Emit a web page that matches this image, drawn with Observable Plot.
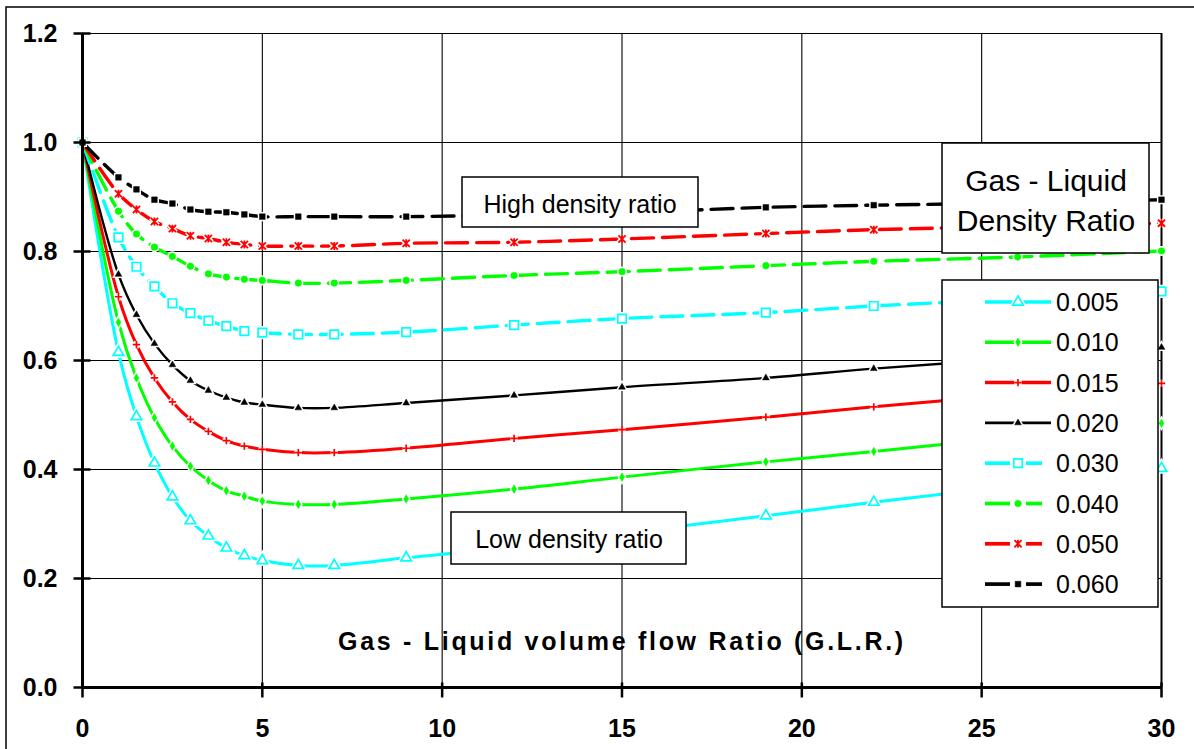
<!DOCTYPE html>
<html>
<head>
<meta charset="utf-8">
<script src="https://cdn.jsdelivr.net/npm/d3@7"></script>
<script src="https://cdn.jsdelivr.net/npm/@observablehq/plot@0.6"></script>
<style>
  html, body { margin: 0; padding: 0; background: #fff; overflow: hidden; }
  #chart svg { display: block; }
</style>
</head>
<body>
<div id="chart"></div>
<script>
// ---------------- data ----------------
const glr = [0, 1, 1.5, 2, 2.5, 3, 3.5, 4, 4.5, 5, 6, 7, 9, 12, 15, 19, 22, 26, 30];
const ratioLabels = ["0.005", "0.010", "0.015", "0.020", "0.030", "0.040", "0.050", "0.060"];
const r005 = [1.0, 0.615, 0.497, 0.412, 0.350, 0.306, 0.278, 0.256, 0.242, 0.233, 0.224, 0.224, 0.238, 0.258, 0.283, 0.315, 0.340, 0.371, 0.402];
const r010 = [1.0, 0.670, 0.568, 0.495, 0.443, 0.406, 0.380, 0.361, 0.351, 0.342, 0.336, 0.336, 0.346, 0.364, 0.386, 0.414, 0.433, 0.460, 0.485];
const r015 = [1.0, 0.717, 0.629, 0.568, 0.524, 0.492, 0.470, 0.453, 0.443, 0.437, 0.431, 0.431, 0.439, 0.457, 0.473, 0.496, 0.515, 0.538, 0.558];
const r020 = [1.0, 0.758, 0.684, 0.631, 0.592, 0.563, 0.545, 0.532, 0.523, 0.519, 0.513, 0.513, 0.522, 0.536, 0.551, 0.568, 0.585, 0.604, 0.624];
const r030 = [1.0, 0.826, 0.772, 0.736, 0.705, 0.687, 0.673, 0.663, 0.654, 0.651, 0.648, 0.648, 0.652, 0.665, 0.677, 0.688, 0.700, 0.713, 0.727];
const r040 = [1.0, 0.874, 0.832, 0.808, 0.791, 0.773, 0.759, 0.753, 0.749, 0.747, 0.742, 0.742, 0.747, 0.756, 0.763, 0.774, 0.782, 0.790, 0.801];
const r050 = [1.0, 0.906, 0.877, 0.855, 0.842, 0.829, 0.824, 0.817, 0.813, 0.810, 0.810, 0.810, 0.815, 0.817, 0.823, 0.833, 0.840, 0.846, 0.852];
const r060 = [1.0, 0.936, 0.914, 0.895, 0.888, 0.877, 0.873, 0.872, 0.868, 0.864, 0.864, 0.864, 0.864, 0.867, 0.871, 0.881, 0.885, 0.889, 0.895];
const seriesValues = [r005, r010, r015, r020, r030, r040, r050, r060];
const xTicks = [0, 5, 10, 15, 20, 25, 30];
const yTicks = [0, 0.2, 0.4, 0.6, 0.8, 1.0, 1.2];
const xLabel = "Gas - Liquid volume flow Ratio (G.L.R.)";
const legendTitle = ["Gas - Liquid", "Density Ratio"];
const noteHigh = "High density ratio";
const noteLow = "Low density ratio";

// ---------------- styles ----------------
const FONT = "'Liberation Sans', Arial, Helvetica, sans-serif";
const CYAN = "#00ffff", GREEN = "#00ff00", RED = "#ff0000", BLACK = "#000000";
const starSymbol = {
  draw(ctx, size) {
    const r = Math.sqrt(size / Math.PI);
    ctx.moveTo(-r, -r); ctx.lineTo(r, r);
    ctx.moveTo(-r, r); ctx.lineTo(r, -r);
    ctx.moveTo(0, -r * 1.1); ctx.lineTo(0, r * 1.1);
  }
};
const styles = [
  {color: CYAN,  width: 3,   dash: null,    symbol: "triangle", r: 3.9, fill: "#ffffff", stroke: CYAN,  sw: 1.7},
  {color: GREEN, width: 3,   dash: null,    symbol: "diamond",  r: 2.6, fill: GREEN,     stroke: GREEN, sw: 0.5},
  {color: RED,   width: 3,   dash: null,    symbol: "plus",     r: 2.5, fill: "none",    stroke: RED,   sw: 1.7},
  {color: BLACK, width: 2.4, dash: null,    symbol: "triangle", r: 2.5, fill: BLACK,     stroke: BLACK, sw: 0.5},
  {color: CYAN,  width: 3.4, dash: "22,9",  symbol: "square",   r: 4.8, fill: "#ffffff", stroke: CYAN,  sw: 1.7},
  {color: GREEN, width: 3.4, dash: "22,9",  symbol: "circle",   r: 3.3, fill: GREEN,     stroke: GREEN, sw: 0.5},
  {color: RED,   width: 3.4, dash: "22,9",  symbol: starSymbol, r: 3.6, fill: "none",    stroke: RED,   sw: 1.8},
  {color: BLACK, width: 3.4, dash: "22,9",  symbol: "square",   r: 3.2, fill: BLACK,     stroke: BLACK, sw: 0.5}
];

// table built from the arrays
const rows = [];
ratioLabels.forEach((ratio, i) => {
  glr.forEach((g, j) => rows.push({glr: g, value: seriesValues[i][j], ratio}));
});

const hTick = {draw(ctx) { ctx.moveTo(-9, 0); ctx.lineTo(8, 0); }};
const vTick = {draw(ctx) { ctx.moveTo(0, -5); ctx.lineTo(0, 10); }};

const seriesMarks = [];
ratioLabels.forEach((ratio, i) => {
  const s = styles[i];
  const data = rows.filter(d => d.ratio === ratio);
  seriesMarks.push(Plot.line(data, {
    x: "glr", y: "value", stroke: s.color, strokeWidth: s.width,
    strokeDasharray: s.dash, curve: "catmull-rom"
  }));
  // white halo
  seriesMarks.push(Plot.dot(data, {
    x: "glr", y: "value", symbol: s.symbol, r: s.r,
    fill: s.fill === "none" ? "none" : "#ffffff", stroke: "#ffffff", strokeWidth: s.sw + 3
  }));
  seriesMarks.push(Plot.dot(data, {
    x: "glr", y: "value", symbol: s.symbol, r: s.r,
    fill: s.fill, stroke: s.stroke, strokeWidth: s.sw
  }));
});

const chart = Plot.plot({
  width: 1194,
  height: 749,
  marginLeft: 82,
  marginRight: 33,
  marginTop: 33,
  marginBottom: 62,
  style: {fontFamily: FONT, background: "#ffffff", color: "#000", overflow: "hidden"},
  x: {domain: [0, 30]},
  y: {domain: [0, 1.2]},
  marks: [
    Plot.gridY(yTicks.filter(d => d > 0), {stroke: BLACK, strokeOpacity: 1, strokeWidth: 1.1}),
    Plot.gridX(xTicks.filter(d => d > 0 && d < 30), {stroke: BLACK, strokeOpacity: 1, strokeWidth: 1.1}),
    Plot.gridX(xTicks.filter(d => d === 30), {stroke: BLACK, strokeOpacity: 1, strokeWidth: 2}),
    ...seriesMarks,
    Plot.ruleX([0], {stroke: BLACK, strokeWidth: 3}),
    Plot.ruleY([0], {stroke: BLACK, strokeWidth: 3}),
    Plot.dot(yTicks, {x: () => 0, y: d => d, symbol: hTick, r: 5, fill: "none", stroke: BLACK, strokeWidth: 2.5}),
    Plot.dot(xTicks, {x: d => d, y: () => 0, symbol: vTick, r: 5, fill: "none", stroke: BLACK, strokeWidth: 2.5}),
    Plot.axisY({ticks: yTicks, tickSize: 0, tickPadding: 25, tickFormat: d3.format(".1f"), label: null,
      fontSize: 25, fontWeight: "bold", fill: BLACK}),
    Plot.axisX({ticks: xTicks, tickSize: 0, tickPadding: 32, tickFormat: d3.format("d"), label: null,
      fontSize: 25, fontWeight: "bold", fill: BLACK}),
    Plot.text([xLabel], {frameAnchor: "bottom", dy: -38, text: d => d, fontSize: 25, fontWeight: "bold", fill: BLACK})
  ]
});
document.getElementById("chart").appendChild(chart);

// ---------------- annotations & legend ----------------
const svg = d3.select(chart);
svg.selectAll("text").filter(function () { return this.textContent === xLabel; })
  .style("letter-spacing", "2.7px");

// outer frame (behind): only its top and left edges fall inside the picture
svg.insert("rect", ":first-child")
  .attr("x", 6).attr("y", 7).attr("width", 1300).attr("height", 900)
  .attr("fill", "#ffffff").attr("stroke", BLACK).attr("stroke-width", 1.5);

const ann = svg.append("g").attr("font-family", FONT).attr("fill", BLACK);

function box(x0, y0, x1, y1) {
  ann.append("rect").attr("x", x0).attr("y", y0).attr("width", x1 - x0).attr("height", y1 - y0)
    .attr("fill", "#ffffff").attr("stroke", BLACK).attr("stroke-width", 1.5);
}
// High / Low density notes
box(462, 177, 698, 227);
ann.append("text").attr("x", 580).attr("y", 213).attr("text-anchor", "middle")
  .attr("font-size", 25).text(noteHigh);
box(451, 512, 686, 564);
ann.append("text").attr("x", 569).attr("y", 548).attr("text-anchor", "middle")
  .attr("font-size", 25).text(noteLow);

// legend title
box(942, 143, 1149, 253);
legendTitle.forEach((t, i) => {
  ann.append("text").attr("x", 1046).attr("y", 191 + i * 40).attr("text-anchor", "middle")
    .attr("font-size", 30).text(t);
});

// legend entries
box(942, 280, 1158, 607);
const symMap = {triangle: d3.symbolTriangle, diamond: d3.symbolDiamond, plus: d3.symbolPlus,
  square: d3.symbolSquare, circle: d3.symbolCircle};
ratioLabels.forEach((ratio, i) => {
  const s = styles[i];
  const y = 302 + i * 40.3;
  const mx = 1018;
  if (s.dash) {
    [[985, 1010], [1026, 1042]].forEach(([a, b]) => {
      ann.append("line").attr("x1", a).attr("x2", b).attr("y1", y).attr("y2", y)
        .attr("stroke", s.color).attr("stroke-width", s.width + 0.3);
    });
  } else {
    ann.append("line").attr("x1", 985).attr("x2", 1051).attr("y1", y).attr("y2", y)
      .attr("stroke", s.color).attr("stroke-width", s.width + 0.5);
  }
  const sym = typeof s.symbol === "string" ? symMap[s.symbol] : s.symbol;
  const path = d3.symbol(sym, Math.PI * s.r * s.r)();
  ann.append("path").attr("d", path).attr("transform", `translate(${mx},${y})`)
    .attr("fill", s.fill === "none" ? "none" : "#ffffff").attr("stroke", "#ffffff").attr("stroke-width", s.sw + 3);
  ann.append("path").attr("d", path).attr("transform", `translate(${mx},${y})`)
    .attr("fill", s.fill).attr("stroke", s.stroke).attr("stroke-width", s.sw);
  ann.append("text").attr("x", 1056).attr("y", y + 9).attr("text-anchor", "start")
    .attr("font-size", 25).text(ratio);
});
</script>
</body>
</html>
